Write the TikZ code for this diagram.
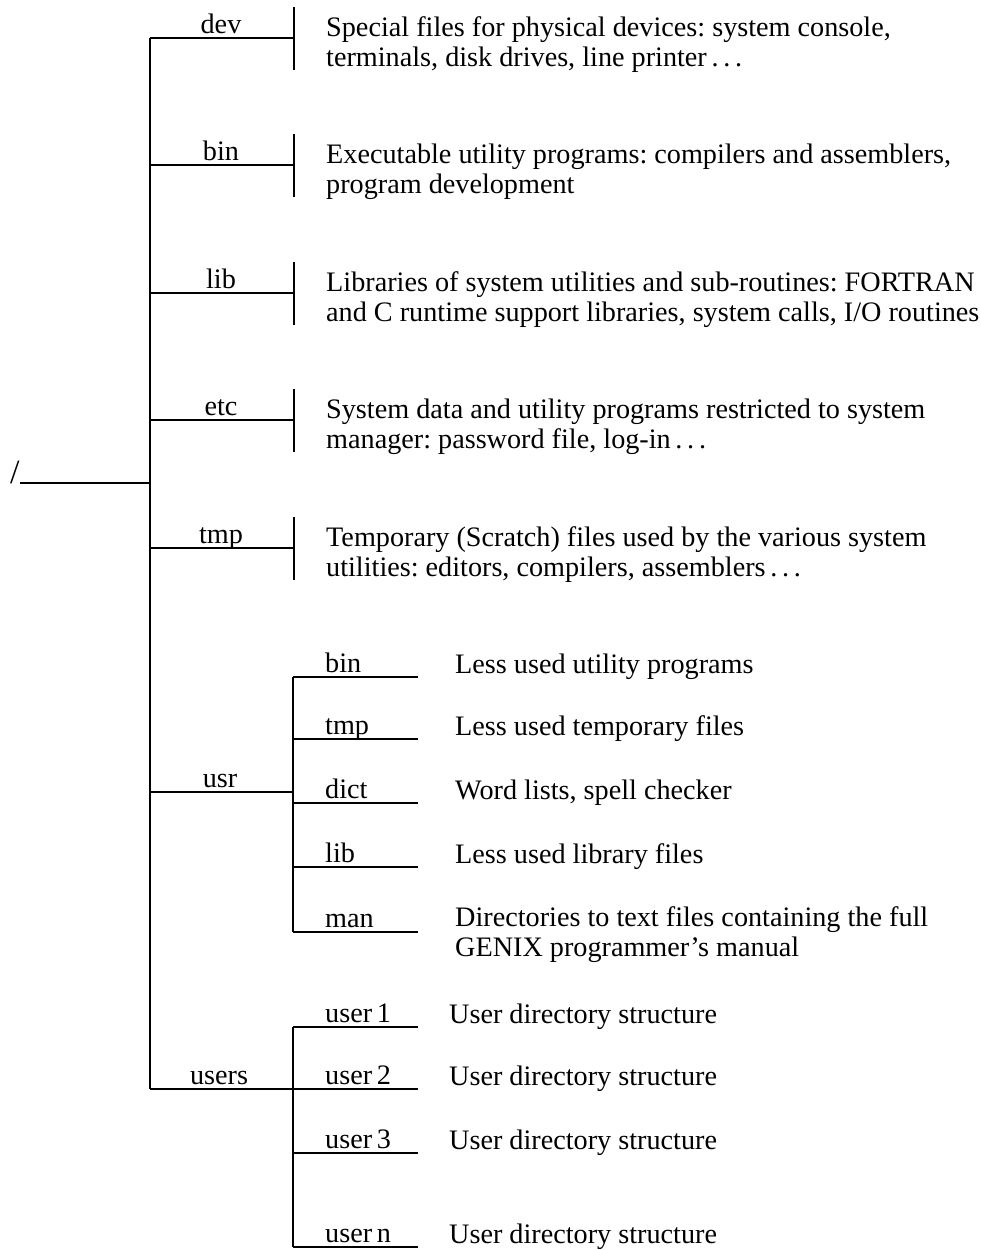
\documentclass[tikz,border=0pt]{standalone}
\usepackage{fontspec}
\setmainfont{Liberation Serif}
\newcommand{\txtfont}{\fontsize{28.2}{30.5}\selectfont\frenchspacing}
\begin{document}
\begin{tikzpicture}[x=1pt,y=-1pt,
  conn/.style={line width=1.3pt, black},
  lbl/.style={anchor=base, inner sep=0pt, font=\txtfont},
  sublbl/.style={anchor=base west, inner sep=0pt, font=\txtfont},
  desc/.style={anchor=base west, inner sep=0pt, font=\txtfont}]
\useasboundingbox (0,0) rectangle (981,1250);
% root and main trunk
\node[anchor=base west, inner sep=0pt, font=\fontsize{34}{34}\selectfont] (root) at (10,483) {/};
\coordinate (T) at (150,38);
\coordinate (B) at (150,1089);
\coordinate (R) at (150,483);
\draw[conn] (T) -- (B);
\draw[conn] (root.base east) -- (R);
% first-level branches with bars
\foreach \nm/\yy/\dl/\dm in {
  dev/38/{Special files for physical devices: system console,}/{terminals, disk drives, line printer\,.\,.\,.},
  bin/165/{Executable utility programs: compilers and assemblers,}/{program development},
  lib/293/{Libraries of system utilities and sub-routines: FORTRAN}/{and C runtime support libraries, system calls, I/O routines},
  etc/420/{System data and utility programs restricted to system}/{manager: password file, log-in\,.\,.\,.},
  tmp/548/{Temporary (Scratch) files used by the various system}/{utilities: editors, compilers, assemblers\,.\,.\,.}} {
  \coordinate (j\nm) at (150,\yy);
  \coordinate (e\nm) at (294,\yy);
  \coordinate (bt\nm) at (294,\yy-31);
  \coordinate (bb\nm) at (294,\yy+32);
  \draw[conn] (j\nm) -- (e\nm);
  \draw[conn] (bt\nm) -- (bb\nm);
  \node[lbl] (l\nm) at (221,\yy-5) {\nm};
  \node[desc] (d\nm) at (326,\yy-2) {\begin{tabular}[t]{@{}l@{}}\dl\\ \dm\end{tabular}};
}
% usr
\coordinate (jusr) at (150,792);
\coordinate (kusr) at (293,792);
\draw[conn] (jusr) -- (kusr);
\node[lbl] (lusr) at (220,787) {usr};
\coordinate (ut) at (293,677);
\coordinate (ub) at (293,932);
\draw[conn] (ut) -- (ub);
\foreach \nm/\yy/\ds in {
  bin/677/{Less used utility programs},
  tmp/739/{Less used temporary files},
  dict/803/{Word lists, spell checker},
  lib/867/{Less used library files}} {
  \coordinate (us\nm) at (293,\yy);
  \coordinate (ue\nm) at (418,\yy);
  \draw[conn] (us\nm) -- (ue\nm);
  \node[sublbl] (ul\nm) at (325,\yy-5) {\nm};
  \node[desc] (ud\nm) at (455,\yy-4) {\ds};
}
\coordinate (usman) at (293,932);
\coordinate (ueman) at (418,932);
\draw[conn] (usman) -- (ueman);
\node[sublbl] (ulman) at (325,927) {man};
\node[desc] (udman) at (455,926) {\begin{tabular}[t]{@{}l@{}}Directories to text files containing the full\\ GENIX programmer's manual\end{tabular}};
% users
\coordinate (jusers) at (150,1089);
\coordinate (kusers) at (293,1089);
\draw[conn] (jusers) -- (kusers);
\node[lbl] (lusers) at (219,1084) {users};
\coordinate (st) at (293,1027);
\coordinate (sb) at (293,1247);
\draw[conn] (st) -- (sb);
\foreach \nm/\lb/\yy in {u1/user\,1/1027, u2/user\,2/1089, u3/user\,3/1153, un/user\,n/1247} {
  \coordinate (ss\nm) at (293,\yy);
  \coordinate (se\nm) at (418,\yy);
  \draw[conn] (ss\nm) -- (se\nm);
  \node[sublbl] (sl\nm) at (325,\yy-5) {\lb};
  \node[desc] (sd\nm) at (449,\yy-4) {User directory structure};
}
\end{tikzpicture}
\end{document}
